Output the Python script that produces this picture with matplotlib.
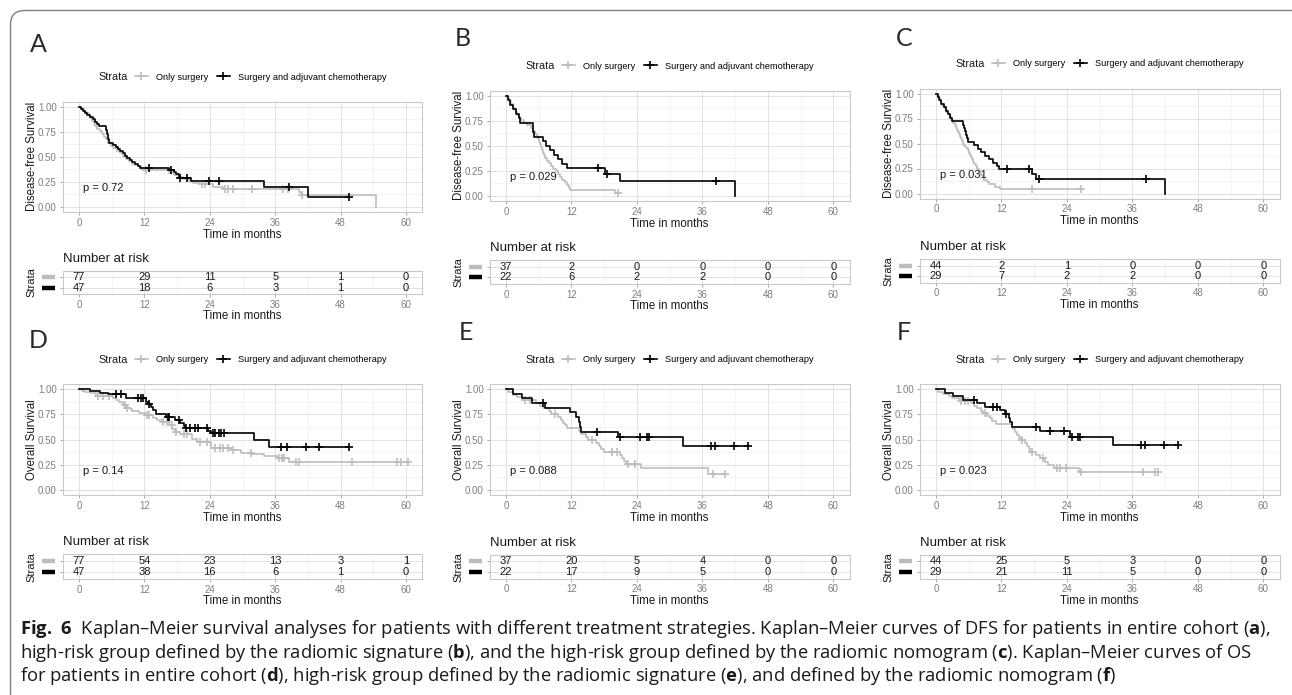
import numpy as np
import matplotlib
matplotlib.use('Agg')
import matplotlib.pyplot as plt
from matplotlib.lines import Line2D
from matplotlib.patches import FancyBboxPatch
from matplotlib.ticker import MultipleLocator, FormatStrFormatter
from matplotlib.transforms import IdentityTransform, blended_transform_factory

# ---------------- data ----------------
time_ticks = [0, 12, 24, 36, 48, 60]
group_labels = ["Only surgery", "Surgery and adjuvant chemotherapy"]
panel_letters = ["A", "B", "C", "D", "E", "F"]
y_titles = ["Disease-free Survival"] * 3 + ["Overall Survival"] * 3
p_values = ["p = 0.72", "p = 0.029", "p = 0.031", "p = 0.14", "p = 0.088", "p = 0.023"]

# Panel A (DFS, entire cohort)
A_gray_t = [0.3, 0.6, 0.9, 1.2, 1.5, 1.8, 2.1, 2.4, 2.7, 3.0, 3.4, 3.8, 4.2, 4.6, 5.0, 5.4, 5.8, 6.3, 6.9, 7.5,
            8.1, 8.7, 9.2, 9.7, 10.3, 10.8, 11.4, 11.8, 16.6, 17.4, 18.3, 19.0, 20.2, 21.0, 22.2, 24.5, 26.4,
            40.3, 40.8, 54.5]
A_gray_s = [0.987, 0.974, 0.961, 0.948, 0.935, 0.909, 0.883, 0.857, 0.831, 0.805, 0.779, 0.753, 0.727, 0.701,
            0.675, 0.636, 0.610, 0.584, 0.558, 0.532, 0.506, 0.480, 0.454, 0.428, 0.415, 0.402, 0.376, 0.362,
            0.340, 0.318, 0.296, 0.274, 0.252, 0.237, 0.222, 0.199, 0.176, 0.147, 0.118, 0.0]
A_gray_c = [12.3, 22.6, 23.2, 26.8, 27.4, 28.2, 31.8, 37.4, 38.4, 41.0]
A_black_t = [0.3, 0.7, 1.1, 1.5, 2.0, 2.5, 2.9, 3.3, 3.6, 4.9, 5.1, 5.3, 5.5, 6.3, 6.8, 7.2, 7.6, 8.0, 8.5, 8.9,
             9.4, 9.8, 10.3, 10.8, 11.2, 16.6, 17.4, 17.8, 18.3, 20.6, 34.0, 42.0]
A_black_s = [0.979, 0.957, 0.936, 0.915, 0.894, 0.872, 0.851, 0.830, 0.809, 0.766, 0.723, 0.681, 0.638, 0.617,
             0.596, 0.574, 0.553, 0.532, 0.511, 0.489, 0.468, 0.447, 0.426, 0.404, 0.389, 0.367, 0.345, 0.322,
             0.285, 0.257, 0.193, 0.096]
A_black_c = [12.9, 16.9, 18.6, 19.9, 23.9, 25.7, 38.6, 49.6]
A_risk_gray = [77, 29, 11, 5, 1, 0]
A_risk_black = [47, 18, 6, 3, 1, 0]

# Panel B (DFS, high-risk by radiomic signature)
B_gray_t = [0.3, 0.6, 0.9, 1.2, 1.5, 1.8, 2.1, 2.4, 2.7, 3.3, 3.9, 4.5, 5.0, 5.4, 5.7, 5.9, 6.1, 6.3, 6.4, 6.6,
            6.8, 7.0, 7.2, 7.5, 7.9, 8.3, 8.7, 9.1, 9.5, 9.9, 10.3, 10.8, 11.1, 11.5, 11.8, 20.0]
B_gray_s = [0.973, 0.946, 0.919, 0.892, 0.865, 0.838, 0.811, 0.784, 0.757, 0.730, 0.703, 0.676, 0.649, 0.622,
            0.595, 0.568, 0.541, 0.514, 0.486, 0.459, 0.432, 0.405, 0.378, 0.351, 0.324, 0.297, 0.270, 0.243,
            0.216, 0.189, 0.162, 0.135, 0.108, 0.081, 0.054, 0.027]
B_gray_c = [20.5]
B_black_t = [0.3, 0.8, 1.3, 1.9, 2.3, 2.6, 4.9, 5.0, 5.1, 6.8, 7.3, 8.0, 8.8, 9.5, 10.2, 11.2, 18.1, 20.9, 42.0]
B_black_s = [0.955, 0.909, 0.864, 0.818, 0.773, 0.727, 0.682, 0.636, 0.591, 0.545, 0.500, 0.455, 0.409, 0.364,
             0.318, 0.273, 0.218, 0.146, 0.0]
B_black_c = [16.8, 18.6, 38.5]
B_risk_gray = [37, 2, 0, 0, 0, 0]
B_risk_black = [22, 6, 2, 2, 0, 0]

# Panel C (DFS, high-risk by radiomic nomogram)
C_gray_t = [0.25, 0.5, 0.7, 0.9, 1.1, 1.3, 1.6, 1.9, 2.2, 2.5, 2.8, 3.0, 3.2, 3.4, 3.6, 3.8, 4.0, 4.2, 4.45, 4.65,
            4.85, 5.0, 5.2, 5.5, 5.8, 6.0, 6.2, 6.4, 6.6, 6.85, 7.05, 7.3, 7.5, 7.8, 8.05, 8.3, 8.6, 8.85, 9.3,
            9.8, 10.8, 11.7]
C_gray_s = [0.977, 0.955, 0.932, 0.909, 0.886, 0.864, 0.841, 0.818, 0.795, 0.773, 0.750, 0.727, 0.705, 0.682,
            0.659, 0.636, 0.614, 0.591, 0.568, 0.545, 0.523, 0.500, 0.477, 0.455, 0.432, 0.409, 0.386, 0.364,
            0.341, 0.318, 0.295, 0.273, 0.250, 0.227, 0.205, 0.182, 0.159, 0.136, 0.114, 0.091, 0.068, 0.045]
C_gray_c = [17.6, 26.6]
C_black_t = [0.3, 0.6, 1.0, 1.4, 1.8, 2.2, 2.6, 3.0, 4.9, 5.1, 5.3, 5.5, 5.7, 5.9, 7.0, 7.7, 8.2, 9.0, 9.8, 10.5,
             11.2, 11.6, 17.6, 18.4, 42.0]
C_black_s = [0.966, 0.931, 0.897, 0.862, 0.828, 0.793, 0.759, 0.724, 0.690, 0.655, 0.621, 0.586, 0.552, 0.517,
             0.483, 0.448, 0.414, 0.379, 0.345, 0.310, 0.276, 0.241, 0.193, 0.145, 0.0]
C_black_c = [13.0, 17.0, 18.8, 38.5]
C_risk_gray = [44, 2, 1, 0, 0, 0]
C_risk_black = [29, 7, 2, 2, 0, 0]

# Panel D (OS, entire cohort)
D_gray_t = [0.5, 1.2, 2.0, 3.2, 6.2, 6.8, 7.4, 8.1, 8.6, 9.3, 9.8, 11.0, 12.2, 13.5, 14.4, 15.2, 16.5, 17.1, 17.6,
            18.6, 20.7, 21.7, 24.2, 27.8, 29.8, 31.8, 34.0, 36.3, 38.5]
D_gray_s = [0.987, 0.974, 0.961, 0.935, 0.909, 0.896, 0.870, 0.844, 0.818, 0.800, 0.782, 0.760, 0.740, 0.720,
            0.700, 0.675, 0.645, 0.605, 0.580, 0.555, 0.510, 0.475, 0.420, 0.400, 0.370, 0.355, 0.340, 0.320,
            0.280]
D_gray_c = [3.5, 4.4, 5.6, 8.4, 8.9, 12.4, 12.9, 15.5, 16.2, 17.0, 17.8, 19.2, 19.8, 22.2, 23.4, 25.0, 25.9, 26.5,
            27.4, 28.3, 31.6, 36.7, 37.2, 37.6, 39.8, 40.4, 50.0, 58.3, 59.1, 60.3]
D_black_t = [2.0, 3.8, 5.3, 8.6, 12.3, 12.7, 13.2, 13.5, 14.1, 15.9, 17.7, 18.6, 19.2, 19.4, 23.7, 24.2, 32.2, 34.9]
D_black_s = [0.980, 0.960, 0.950, 0.910, 0.870, 0.850, 0.820, 0.790, 0.750, 0.730, 0.700, 0.665, 0.640, 0.620,
             0.590, 0.570, 0.500, 0.430]
D_black_c = [6.8, 7.7, 10.8, 11.4, 11.7, 12.9, 16.3, 16.6, 18.3, 19.6, 20.4, 21.3, 21.9, 23.4, 24.6, 25.0, 25.6,
             26.1, 26.6, 37.0, 38.2, 41.6, 44.0, 49.6]
D_risk_gray = [77, 54, 23, 13, 3, 1]
D_risk_black = [47, 38, 16, 6, 1, 0]

# Panel E (OS, high-risk by radiomic signature)
E_gray_t = [0.4, 1.2, 2.0, 3.0, 5.5, 6.2, 6.8, 7.8, 8.2, 9.6, 10.0, 10.4, 10.8, 11.2, 13.4, 13.8, 14.6, 15.0,
            16.5, 17.0, 17.4, 18.0, 20.9, 21.3, 21.7, 22.0, 24.7, 37.0]
E_gray_s = [0.973, 0.946, 0.919, 0.892, 0.865, 0.838, 0.811, 0.784, 0.757, 0.728, 0.699, 0.670, 0.641, 0.612,
            0.583, 0.554, 0.525, 0.496, 0.466, 0.436, 0.406, 0.376, 0.345, 0.314, 0.283, 0.257, 0.214, 0.160]
E_gray_c = [3.5, 4.4, 9.0, 15.7, 19.4, 20.3, 22.3, 23.6, 38.0, 40.2]
E_black_t = [1.3, 2.9, 4.7, 7.1, 11.7, 12.9, 13.3, 13.5, 13.8, 20.6, 32.5]
E_black_s = [0.955, 0.909, 0.864, 0.818, 0.770, 0.722, 0.674, 0.626, 0.578, 0.525, 0.437]
E_black_c = [6.8, 16.6, 20.9, 24.6, 25.9, 26.2, 37.6, 38.3, 41.8, 44.4]
E_risk_gray = [37, 20, 5, 4, 0, 0]
E_risk_black = [22, 17, 9, 5, 0, 0]

# Panel F (OS, high-risk by radiomic nomogram)
F_gray_t = [0.4, 1.2, 2.4, 3.0, 4.2, 6.5, 6.9, 7.5, 8.2, 8.6, 9.4, 9.9, 10.3, 11.0, 13.9, 14.2, 14.5, 14.9, 15.3,
            15.6, 16.3, 16.7, 17.0, 17.3, 18.4, 19.1, 20.0, 20.5, 21.6, 26.3]
F_gray_s = [0.977, 0.955, 0.932, 0.909, 0.886, 0.862, 0.838, 0.813, 0.789, 0.764, 0.738, 0.711, 0.684, 0.657,
            0.630, 0.602, 0.574, 0.547, 0.519, 0.492, 0.463, 0.434, 0.405, 0.376, 0.345, 0.314, 0.282, 0.251,
            0.220, 0.176]
F_gray_c = [4.6, 5.3, 5.9, 8.9, 15.8, 17.6, 19.6, 22.1, 22.7, 23.9, 26.5, 38.0, 40.1, 40.7]
F_black_t = [1.6, 3.2, 5.0, 7.5, 9.0, 11.7, 12.6, 13.3, 13.6, 13.9, 19.0, 24.6, 32.5]
F_black_s = [0.966, 0.931, 0.897, 0.862, 0.826, 0.790, 0.752, 0.714, 0.676, 0.630, 0.584, 0.530, 0.442]
F_black_c = [7.0, 10.5, 11.1, 12.9, 18.4, 20.9, 23.5, 24.9, 26.1, 26.4, 37.6, 38.4, 41.8, 44.4]
F_risk_gray = [44, 25, 5, 3, 0, 0]
F_risk_black = [29, 21, 11, 5, 0, 0]

caption_lines = [
    r"$\mathbf{Fig.\ 6}$  Kaplan–Meier survival analyses for patients with different treatment strategies. "
    r"Kaplan–Meier curves of DFS for patients in entire cohort ($\mathbf{a}$),",
    r"high-risk group defined by the radiomic signature ($\mathbf{b}$), and the high-risk group defined by the "
    r"radiomic nomogram ($\mathbf{c}$). Kaplan–Meier curves of OS",
    r"for patients in entire cohort ($\mathbf{d}$), high-risk group defined by the radiomic signature "
    r"($\mathbf{e}$), and defined by the radiomic nomogram ($\mathbf{f}$)",
]

# ---------------- style / layout ----------------
W, H = 1292, 695
GRAY = '#bdbdbd'
BLACK = '#000000'
TICKC = '#7f7f7f'
plt.rcParams['font.family'] = ['Liberation Sans', 'DejaVu Sans']
plt.rcParams['mathtext.fontset'] = 'custom'
plt.rcParams['mathtext.rm'] = 'Open Sans'
plt.rcParams['mathtext.bf'] = 'Open Sans:bold'

fig = plt.figure(figsize=(W / 100, H / 100), dpi=100)

# layout in pixels: main axes (l, r, t, b), risk table (t, b), letter position
layout = {
    'A': dict(main=(62.6, 422.4, 101.7, 211.7), risk=(271, 294), letter=(38, 44)),
    'B': dict(main=(489.6, 849.7, 90.7, 200.7), risk=(260, 284), letter=(463, 38)),
    'C': dict(main=(919.6, 1279.7, 88.5, 198.5), risk=(259.3, 282.5), letter=(904, 38)),
    'D': dict(main=(62.6, 422.4, 384.3, 495), risk=(554.3, 579), letter=(38, 340)),
    'E': dict(main=(489.6, 849.7, 384.3, 495), risk=(555, 578.5), letter=(466, 333)),
    'F': dict(main=(919.6, 1279.7, 384.3, 495), risk=(555, 578.5), letter=(904, 333)),
}

panels = {
    'A': (A_gray_t, A_gray_s, A_gray_c, A_black_t, A_black_s, A_black_c, A_risk_gray, A_risk_black),
    'B': (B_gray_t, B_gray_s, B_gray_c, B_black_t, B_black_s, B_black_c, B_risk_gray, B_risk_black),
    'C': (C_gray_t, C_gray_s, C_gray_c, C_black_t, C_black_s, C_black_c, C_risk_gray, C_risk_black),
    'D': (D_gray_t, D_gray_s, D_gray_c, D_black_t, D_black_s, D_black_c, D_risk_gray, D_risk_black),
    'E': (E_gray_t, E_gray_s, E_gray_c, E_black_t, E_black_s, E_black_c, E_risk_gray, E_risk_black),
    'F': (F_gray_t, F_gray_s, F_gray_c, F_black_t, F_black_s, F_black_c, F_risk_gray, F_risk_black),
}


def px_axes(l, r, t, b):
    return fig.add_axes([l / W, 1 - b / H, (r - l) / W, (b - t) / H])


def ftext(x, y, s, **kw):
    return fig.text(x / W, 1 - y / H, s, **kw)


def style_axes(ax):
    for sp in ax.spines.values():
        sp.set_color('#c9c9c9')
        sp.set_linewidth(0.8)
    ax.set_xlim(-3, 63)
    ax.set_xticks(time_ticks)
    ax.xaxis.set_minor_locator(MultipleLocator(6))
    ax.grid(which='major', color='#e2e2e2', linewidth=0.7)
    ax.grid(which='minor', color='#f0f0f0', linewidth=0.5)
    ax.set_axisbelow(True)
    ax.tick_params(which='major', length=2.3, width=0.6, color='#9a9a9a', labelsize=7.0,
                   labelcolor=TICKC, pad=2)
    ax.tick_params(which='minor', length=0)


def km_path(times, surv, cens):
    times = np.asarray(times, float)
    surv = np.asarray(surv, float)
    end = max(times[-1], max(cens) if len(cens) else 0.0)
    x = np.concatenate([[0.0], times, [end]])
    y = np.concatenate([[1.0], surv, [surv[-1]]])
    return x, y


def surv_at(times, surv, t):
    idx = np.searchsorted(np.asarray(times), np.asarray(t), side='right') - 1
    s = np.asarray(surv)[np.clip(idx, 0, None)]
    return np.where(idx >= 0, s, 1.0)


for k, letter in enumerate(panel_letters):
    lay = layout[letter]
    gt, gs, gc, bt, bs, bc, rg, rb = panels[letter]
    l, r, t, b = lay['main']

    # ---- main KM axes ----
    ax = px_axes(l, r, t, b)
    style_axes(ax)
    ax.set_ylim(-0.05, 1.05)
    ax.set_yticks([0, 0.25, 0.5, 0.75, 1.0])
    ax.yaxis.set_major_formatter(FormatStrFormatter('%.2f'))
    ax.yaxis.set_minor_locator(MultipleLocator(0.125))
    for (tt, ss, cc, col) in [(gt, gs, gc, GRAY), (bt, bs, bc, BLACK)]:
        x, y = km_path(tt, ss, cc)
        ax.step(x, y, where='post', color=col, linewidth=1.2, zorder=3 if col == BLACK else 2)
        ax.plot(cc, surv_at(tt, ss, cc), linestyle='none', marker='+', markersize=6,
                markeredgewidth=1.2, color=col, zorder=3 if col == BLACK else 2)
    ax.text(0.8, 0.185, p_values[k], fontsize=8, ha='left', va='center', color='#1a1a1a')

    ftext(l - 31, (t + b) / 2, y_titles[k], rotation=90, ha='center', va='center', fontsize=8.3,
          color='#1a1a1a')
    ftext((l + r) / 2, b + 23, "Time in months", ha='center', va='center', fontsize=8.3, color='#1a1a1a')

    # legend
    handles = [Line2D([], [], color=GRAY, marker='+', markersize=6, markeredgewidth=1.2, linewidth=1.2),
               Line2D([], [], color=BLACK, marker='+', markersize=6, markeredgewidth=1.2, linewidth=1.2)]
    leg_y = t - 24.5
    ftext(l + 65, leg_y, "Strata", ha='right', va='center', fontsize=7.8, color='#1a1a1a')
    fig.legend(handles, group_labels, ncol=2, loc='center left', frameon=False,
               bbox_to_anchor=((l + 72) / W, 1 - leg_y / H), bbox_transform=fig.transFigure,
               fontsize=6.6, handlelength=1.45, handletextpad=0.9, columnspacing=0.9,
               borderpad=0, borderaxespad=0)

    # panel letter
    ftext(lay['letter'][0], lay['letter'][1], letter, ha='center', va='center', fontsize=18,
          family=['Lato', 'DejaVu Sans'], fontweight='normal', color='#2a2a2a')

    # ---- risk table ----
    rt, rbm = lay['risk']
    axr = px_axes(l, r, rt, rbm)
    style_axes(axr)
    axr.set_ylim(0.4, 2.6)
    axr.set_yticks([1, 2])
    axr.set_yticklabels([])
    axr.yaxis.set_minor_locator(MultipleLocator(0.5))
    axr.grid(which='minor', axis='y', visible=False)
    # colour keys for the two strata (left of the table)
    key_tr = blended_transform_factory(axr.transAxes, axr.transData)
    for row, col in [(2, GRAY), (1, BLACK)]:
        axr.plot([-0.057, -0.021], [row, row], color=col, linewidth=3.2, transform=key_tr,
                 clip_on=False, solid_capstyle='butt')
    for xi, n in zip(time_ticks, rg):
        axr.text(xi, 2, str(n), ha='center', va='center', fontsize=8, color='#1a1a1a')
    for xi, n in zip(time_ticks, rb):
        axr.text(xi, 1, str(n), ha='center', va='center', fontsize=8, color='#1a1a1a')
    ftext(l, rt - 12.3, "Number at risk", ha='left', va='center', fontsize=9.5, color='#1a1a1a')
    ftext(l - 31, (rt + rbm) / 2, "Strata", rotation=90, ha='center', va='center', fontsize=8.0,
          color='#1a1a1a')
    ftext((l + r) / 2, rbm + 22, "Time in months", ha='center', va='center', fontsize=8.3, color='#1a1a1a')

# ---------------- caption ----------------
renderer = fig.canvas.get_renderer()
probe = fig.text(0, 0, caption_lines[0], fontsize=10, family=['Open Sans', 'DejaVu Sans'])
w10 = probe.get_window_extent(renderer).width
probe.remove()
cap_size = 10 * 1252 / w10
for i, (line, y) in enumerate(zip(caption_lines, [629, 652.5, 676])):
    ftext(20, y, line, fontsize=cap_size, ha='left', va='center', family=['Open Sans', 'DejaVu Sans'],
          color='#1a1a1a')

# ---------------- rounded frame ----------------
frame = FancyBboxPatch((10.5, -40), 1400, (H - 10.5) + 40, boxstyle='round,pad=0,rounding_size=14',
                       transform=IdentityTransform(), fill=False, edgecolor='#808080', linewidth=1.0)
fig.patches.append(frame)

fig.savefig('out.png', dpi=100)
